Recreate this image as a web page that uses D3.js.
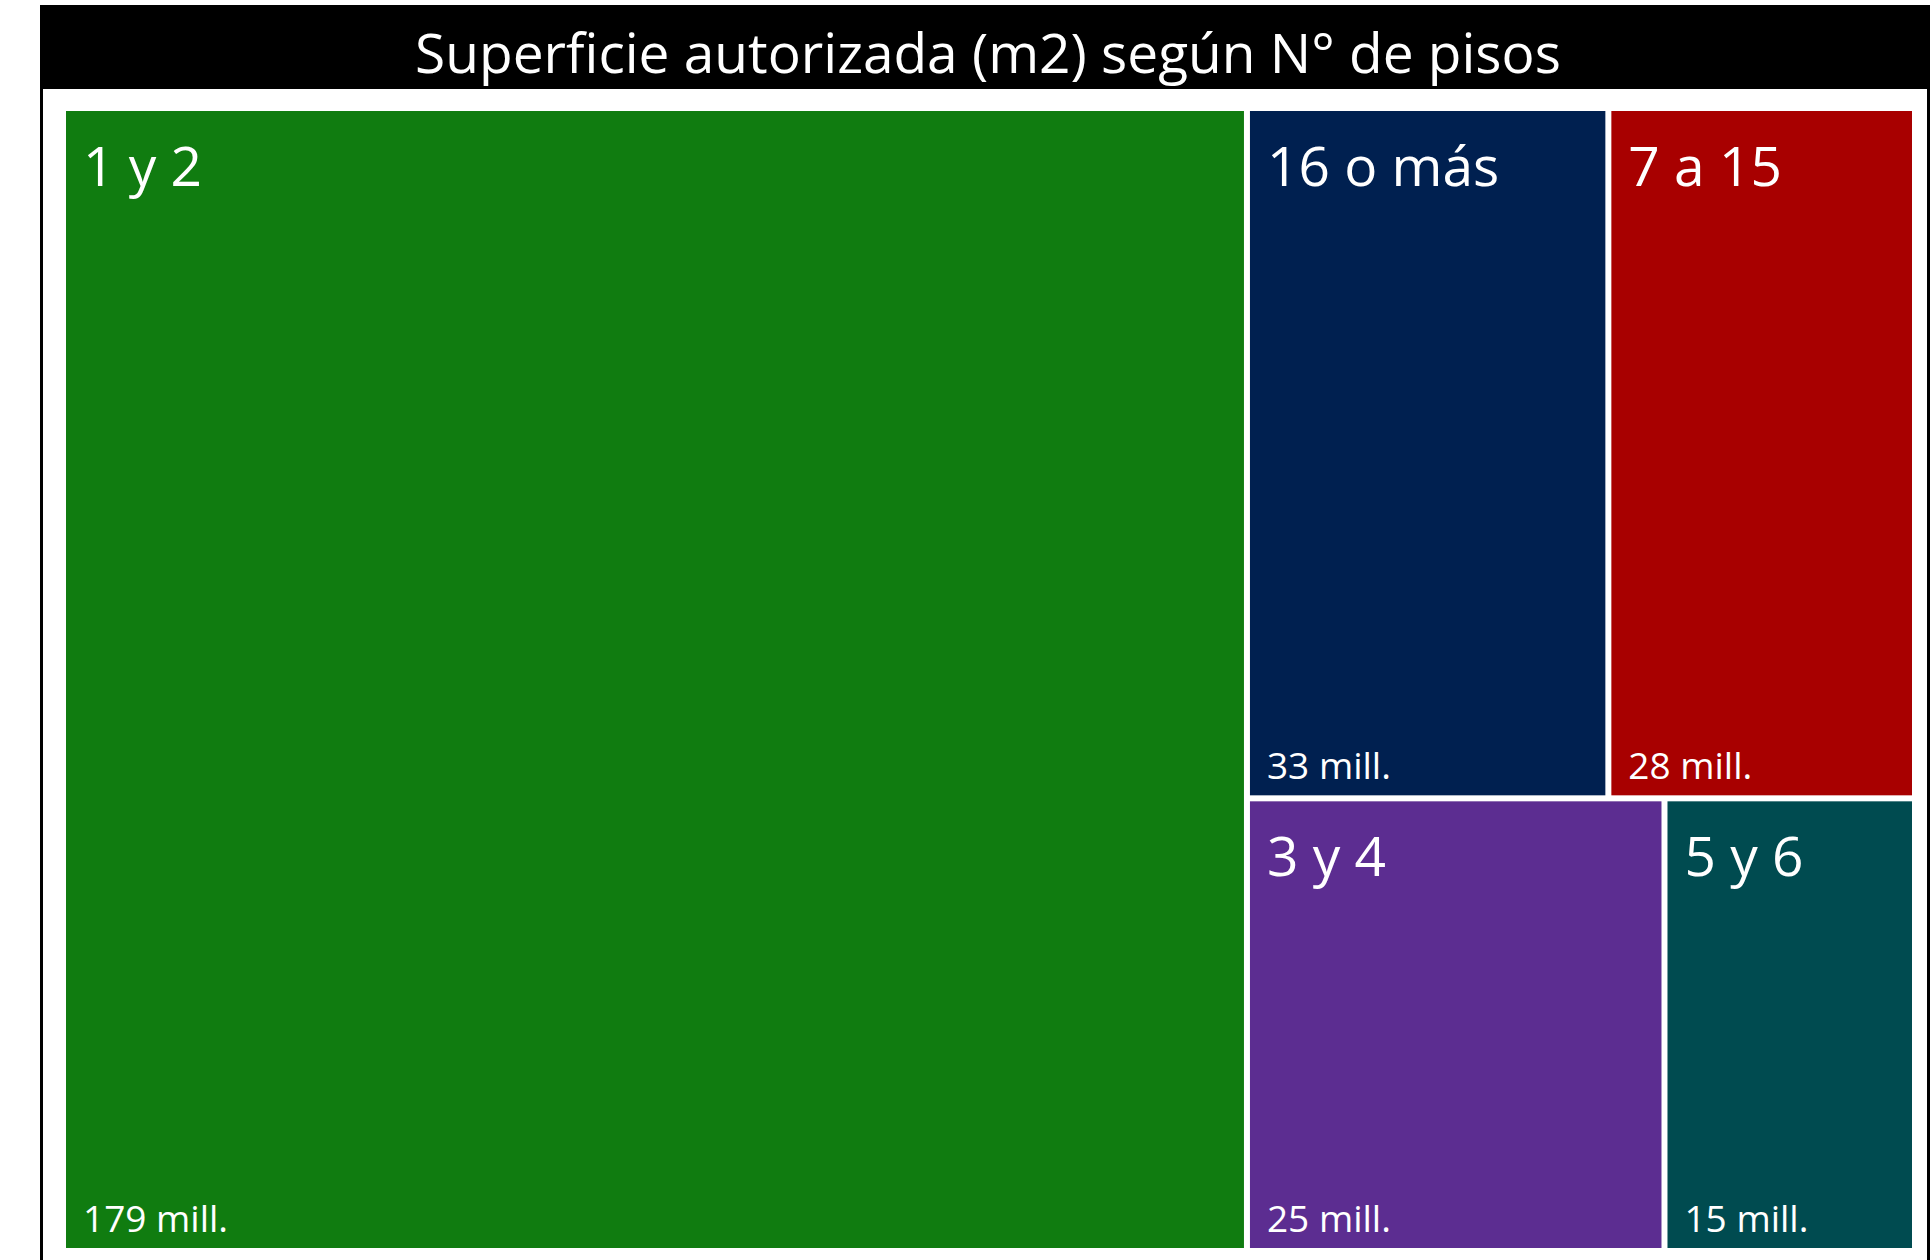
<!DOCTYPE html>
<html>
<head>
<meta charset="utf-8">
<script src="https://cdn.jsdelivr.net/npm/d3@7"></script>
<style>
  html, body { margin: 0; padding: 0; background: #ffffff; }
  svg { display: block; }
  text { font-family: "Open Sans", "Noto Sans", sans-serif; fill: #ffffff; }
</style>
</head>
<body>
<svg id="chart" width="1932" height="1260"></svg>
<script>
// Data
const title = "Superficie autorizada (m2) según N° de pisos";
const categories = ["1 y 2", "16 o más", "7 a 15", "3 y 4", "5 y 6"];
const values = [179, 33, 28, 25, 15];           // millones de m2
const valueLabels = ["179 mill.", "33 mill.", "28 mill.", "25 mill.", "15 mill."];
const colors = ["#107C10", "#002050", "#A80000", "#5C2D91", "#004B50"];

const svg = d3.select("#chart");

// outer frame
svg.append("rect")
  .attr("x", 41.5).attr("y", 6.5)
  .attr("width", 1887).attr("height", 1270)
  .attr("fill", "#ffffff")
  .attr("stroke", "#000000").attr("stroke-width", 3);

// title bar
svg.append("rect")
  .attr("x", 40).attr("y", 6)
  .attr("width", 1887).attr("height", 83)
  .attr("fill", "#000000");

svg.append("text")
  .attr("x", 988).attr("y", 73)
  .attr("text-anchor", "middle")
  .style("font-size", "55px")
  .text(title);

// treemap
const plot = { x: 66, y: 111, w: 1846, h: 1137 };
const data = {
  name: "root",
  children: categories.map((c, i) => ({ name: c, value: values[i], label: valueLabels[i], color: colors[i] }))
};
const root = d3.hierarchy(data).sum(d => d.value || 0).sort((a, b) => b.value - a.value);
d3.treemap()
  .tile(d3.treemapSquarify)
  .size([plot.w, plot.h])
  .paddingInner(6)
  .round(false)(root);

const g = svg.append("g").attr("transform", `translate(${plot.x},${plot.y})`);
const leaf = g.selectAll("g.leaf").data(root.leaves()).join("g").attr("class", "leaf");

leaf.append("rect")
  .attr("x", d => d.x0).attr("y", d => d.y0)
  .attr("width", d => d.x1 - d.x0).attr("height", d => d.y1 - d.y0)
  .attr("fill", d => d.data.color);

leaf.append("text")
  .attr("x", d => d.x0 + 17).attr("y", d => d.y0 + 75)
  .style("font-size", "55px")
  .text(d => d.data.name);

leaf.append("text")
  .attr("x", d => d.x0 + 17).attr("y", d => d.y1 - 16)
  .style("font-size", "37px")
  .text(d => d.data.label);
</script>
</body>
</html>
